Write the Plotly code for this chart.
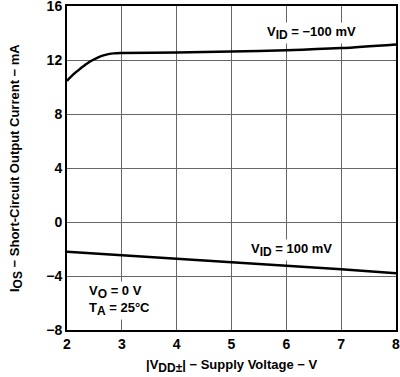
import plotly.graph_objects as go

upper_x = [2.0, 2.12, 2.24, 2.36, 2.48, 2.6, 2.7, 2.85, 3.0, 4.0, 5.0, 6.0, 7.0, 8.0]
upper_y = [10.45, 10.95, 11.35, 11.72, 12.02, 12.25, 12.38, 12.49, 12.52, 12.56, 12.63, 12.72, 12.88, 13.15]
lower_x = [2.0, 3.0, 4.0, 5.0, 6.0, 7.0, 8.0]
lower_y = [-2.2, -2.45, -2.75, -3.0, -3.25, -3.5, -3.8]
x_ticks = [2, 3, 4, 5, 6, 7, 8]
y_ticks = [-8, -4, 0, 4, 8, 12, 16]

FAM = "Liberation Sans, Arial, sans-serif"
font = dict(family=FAM, size=13, color="black")


def sub(s):
    return f"<sub><span style='font-size:12px'>{s}</span></sub>"


fig = go.Figure()
fig.add_trace(go.Scatter(x=upper_x, y=upper_y, mode="lines",
                         line=dict(color="black", width=2.5, shape="spline", smoothing=0.8),
                         showlegend=False))
fig.add_trace(go.Scatter(x=lower_x, y=lower_y, mode="lines",
                         line=dict(color="black", width=2.5), showlegend=False))

axis_common = dict(showline=True, linecolor="black", linewidth=2, mirror=True,
                   showgrid=True, gridcolor="#666666", gridwidth=1, zeroline=False,
                   ticks="", automargin=False, ticklabeloverflow="allow",
                   tickfont=dict(family=FAM, size=14, color="black"))

fig.update_layout(
    width=400, height=377,
    margin=dict(l=67, r=4, t=6, b=47),
    paper_bgcolor="white", plot_bgcolor="white",
    font=font,
    xaxis=dict(range=[2, 8], tickvals=x_ticks, ticktext=[f"<b>{v}</b>" for v in x_ticks],
               **axis_common),
    yaxis=dict(range=[-8, 16], tickvals=y_ticks,
               ticktext=[f"<b>{'−' + str(-v) if v < 0 else v}</b>" for v in y_ticks],
               **axis_common),
)

fig.add_annotation(xref="paper", yref="paper", x=0.5, y=-0.11, xanchor="center", yanchor="middle",
                   text=f"<b>|V{sub('DD±')}| − Supply Voltage − V</b>", showarrow=False,
                   font=dict(size=13))
fig.add_annotation(xref="paper", yref="paper", x=-0.155, y=0.5, xanchor="center", yanchor="middle",
                   textangle=-90,
                   text=f"<b>I{sub('OS')} − Short-Circuit Output Current − mA</b>", showarrow=False,
                   font=dict(size=13))

fig.add_annotation(x=6.45, y=14.0, text=f"<b>V{sub('ID')} = −100 mV</b>", showarrow=False,
                   font=dict(size=13), bgcolor="white")
fig.add_annotation(x=6.1, y=-2.05, text=f"<b>V{sub('ID')} = 100 mV</b>", showarrow=False,
                   font=dict(size=13), bgcolor="white")
fig.add_annotation(x=2.36, y=-5.8, text=f"<b>V{sub('O')} = 0 V<br>T{sub('A')} = 25°C</b>",
                   showarrow=False, align="left", xanchor="left", font=dict(size=13),
                   bgcolor="white")

fig.write_html("out.html", config={"displayModeBar": False},
               post_script="document.body.style.margin='0';document.body.style.padding='0';")
